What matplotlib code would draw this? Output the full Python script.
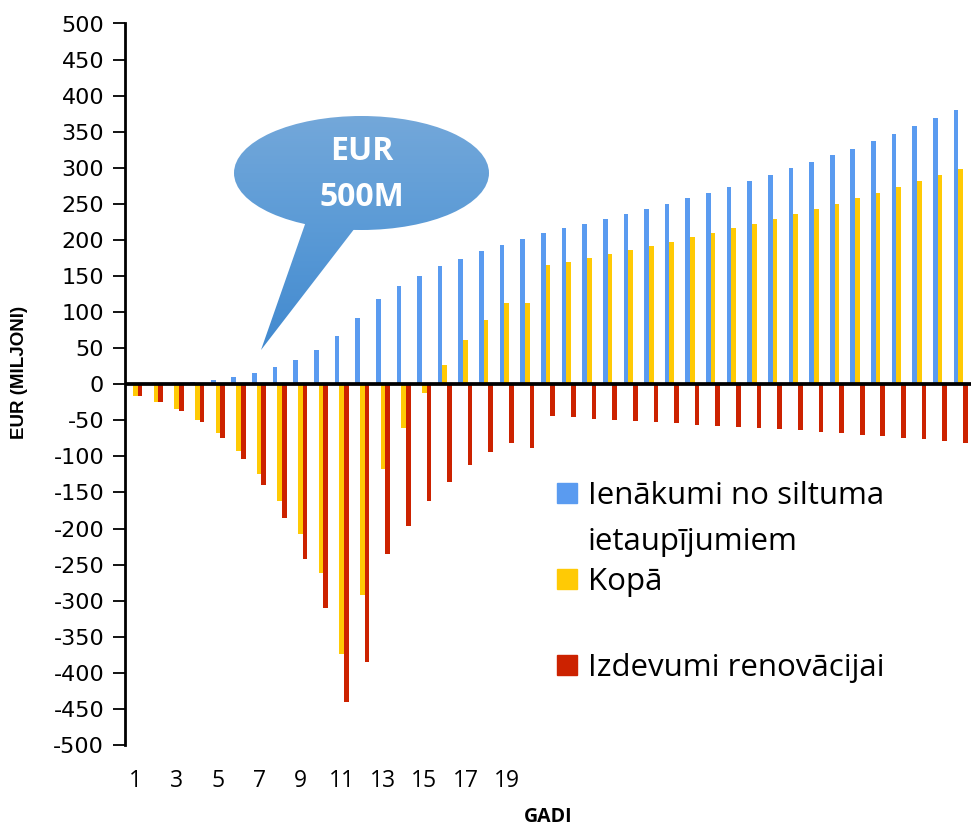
import numpy as np
import matplotlib
matplotlib.use("Agg")
import matplotlib.pyplot as plt
from matplotlib.patches import Ellipse, Polygon, Rectangle
from matplotlib.colors import LinearSegmentedColormap

# Dati (EUR miljoni) pa gadiem
gadi = list(range(1, 42))
ienakumi = [0.5, 1, 2, 3.2, 6, 10, 15.7, 23.5, 34, 48, 67, 92.5, 117.5, 135.5, 150.5,
            163.5, 174, 184, 193.5, 201, 209.5, 216, 222.5, 229, 236.5, 243, 250, 258.5,
            265.5, 273.5, 282, 290, 299.5, 308, 317.5, 326.5, 336.5, 347, 357.5, 369, 380]
kopa = [-15.6, -24, -34.6, -49, -68, -92.5, -124, -162, -207, -261.5, -374, -292, -117,
        -60.5, -12, 27, 62, 89.5, 112, 112, 165.5, 170, 175.5, 180.5, 186.5, 191.5, 197,
        203.5, 209.5, 216, 222, 229.5, 235.5, 242.5, 250.5, 258, 265.5, 273, 282, 290, 299]
izdevumi = [-16, -25, -36.5, -52.5, -74, -103, -140, -186, -242, -310.5, -441, -385, -235,
            -196.5, -162.5, -136, -112, -94.5, -81.5, -89, -44.5, -46, -47.5, -49, -50.5,
            -52, -54, -55.8, -57.2, -59, -61, -62.7, -64, -66.4, -68.2, -70.6, -72.4,
            -74.7, -76.5, -79, -81.2]
x_labels = [1, 3, 5, 7, 9, 11, 13, 15, 17, 19]
y_ticks = list(range(-500, 501, 50))

BLUE = "#5A9BF0"
YELLOW = "#FFCA05"
RED = "#CC2200"
CAL = "Open Sans"

W, H = 971, 830
fig = plt.figure(figsize=(W / 100, H / 100), dpi=100)
ax = fig.add_axes([125 / W, (H - 745) / H, (971 - 125) / W, (745 - 23.5) / H])

x = np.array(gadi)
bw = 0.227
ax.bar(x - bw, ienakumi, bw, color=BLUE, zorder=2)
ax.bar(x, kopa, bw, color=YELLOW, zorder=2)
ax.bar(x + bw, izdevumi, bw, color=RED, zorder=2)
ax.axhline(0, color="black", lw=2.7, zorder=3)

ax.set_xlim(0.5, 41.5)
ax.set_ylim(-500, 500)
ax.set_yticks(y_ticks)
ax.set_yticklabels([str(v) for v in y_ticks], fontsize=16, family="DejaVu Sans")
ax.tick_params(axis="y", direction="out", length=9, width=1.3, pad=6)
ax.set_xticks(x_labels)
ax.set_xticklabels([str(v) for v in x_labels], fontsize=16.5, family=CAL)
ax.tick_params(axis="x", length=0, pad=17)

for s in ["top", "right", "bottom"]:
    ax.spines[s].set_visible(False)
ax.spines["left"].set_linewidth(2)

ax.set_ylabel("EUR (MILJONI)", fontsize=13.5, fontweight="bold", family="Liberation Sans")
ax.yaxis.label.set_va("center")
ax.yaxis.set_label_coords(-(125 - 20) / 846, (745 - 372) / (745 - 23.5))
ax.set_xlabel("GADI", fontsize=14, fontweight="bold", family=CAL)
ax.xaxis.label.set_va("center")
ax.xaxis.set_label_coords(0.5, -(817 - 745) / (745 - 23.5))

# Pārklājuma asis (pikseļu koordinātas) burbulim un leģendai
ov = fig.add_axes([0, 0, 1, 1], zorder=5)
ov.set_xlim(0, W)
ov.set_ylim(H, 0)
ov.axis("off")
ov.patch.set_alpha(0)

ell = Ellipse((361.5, 173), 255, 114, fc="none", ec="none")
tri = Polygon([(310, 210), (365, 215), (261, 350)], closed=True, fc="none", ec="none")
ov.add_patch(ell)
ov.add_patch(tri)
grad = np.linspace(0, 1, 256).reshape(-1, 1)
cmap = LinearSegmentedColormap.from_list("burb", ["#74A8DA", "#5A9AD6", "#4189CF"])
for p in (ell, tri):
    im = ov.imshow(grad, cmap=cmap, extent=(230, 495, 352, 114), aspect="auto",
                   interpolation="bilinear", zorder=6)
    im.set_clip_path(p)
ov.set_xlim(0, W)
ov.set_ylim(H, 0)
ov.text(361.5, 152, "EUR", color="white", fontsize=23, fontweight="bold", family=CAL,
        ha="center", va="center", zorder=7)
ov.text(361.5, 197, "500M", color="white", fontsize=23, fontweight="bold", family=CAL,
        ha="center", va="center", zorder=7)

# Leģenda
leg_items = [(BLUE, 493, ["Ienākumi no siltuma", "ietaupījumiem"]),
             (YELLOW, 579, ["Kopā"]),
             (RED, 665, ["Izdevumi renovācijai"])]
for col, yc, lines in leg_items:
    ov.add_patch(Rectangle((557, yc - 10), 20, 20, color=col, zorder=6))
    for i, line in enumerate(lines):
        ov.text(588, yc + 11 + 46 * i, line, fontsize=22.5, family=CAL, ha="left",
                va="baseline", zorder=7)

fig.savefig("out.png", dpi=100)
